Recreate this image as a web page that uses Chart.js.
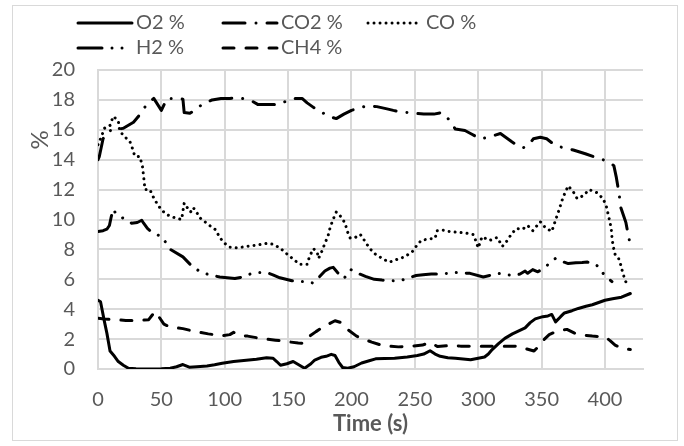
<!DOCTYPE html>
<html>
<head>
<meta charset="utf-8">
<script src="https://cdn.jsdelivr.net/npm/chart.js@4.4.1/dist/chart.umd.min.js"></script>
<style>
    html, body { margin: 0; padding: 0; background: #fff; }
    .frame { position: absolute; left: 12px; top: 5px; width: 666px; height: 436px; border: 1px solid #d9d9d9; box-sizing: border-box; }
    .frame canvas { display: block; }
</style>
</head>
<body>
<div class="frame"><canvas id="chart" width="664" height="434"></canvas></div>
<script>
const o2Time = [0, 2, 5, 7, 9.5, 13, 16, 20, 24, 30, 40, 50, 57, 62, 67, 72, 78, 86, 92, 98, 107, 117, 125, 133, 138, 141, 144, 149, 154, 158, 163, 168, 171, 176, 180, 184, 187, 190, 193, 197, 202, 208, 214, 219, 226, 234, 244, 252, 257, 262, 266, 270, 276, 282, 288, 294, 300, 305, 308, 311, 316, 321, 327, 332, 337, 341, 345, 351, 355, 358, 361, 365, 368, 374, 379, 385, 390, 395, 400, 406, 413, 420];
const o2Values = [4.6, 4.5, 3.2, 2.4, 1.2, 0.85, 0.5, 0.25, 0.05, 0.02, 0.0, 0.02, 0.05, 0.15, 0.3, 0.12, 0.15, 0.2, 0.28, 0.38, 0.5, 0.58, 0.65, 0.75, 0.72, 0.5, 0.25, 0.35, 0.5, 0.3, 0.05, 0.35, 0.6, 0.78, 0.85, 0.98, 0.9, 0.45, 0.1, 0.05, 0.15, 0.4, 0.55, 0.68, 0.7, 0.72, 0.8, 0.9, 1.0, 1.22, 1.0, 0.85, 0.75, 0.72, 0.67, 0.62, 0.72, 0.8, 1.0, 1.3, 1.7, 2.05, 2.35, 2.55, 2.75, 3.1, 3.35, 3.5, 3.55, 3.65, 3.15, 3.5, 3.75, 3.9, 4.05, 4.2, 4.3, 4.45, 4.6, 4.7, 4.8, 5.05];

const co2Time = [0, 1, 4, 8, 12, 20, 28, 31.5, 35, 39.5, 44, 50, 54.5, 60, 67, 68, 72.5, 78, 82, 90, 97, 104, 110, 117, 122, 126, 135, 143.5, 149, 155, 161, 165, 170, 176, 182, 188, 194, 200, 206, 212, 220, 228, 233, 239, 245, 251, 257, 265, 271, 275, 279, 282, 289.5, 295, 301.5, 308, 317.5, 326.5, 331, 335.5, 340, 343.5, 349, 354, 360, 365, 375, 384.5, 391, 396.5, 402, 407, 409, 411, 412.5, 416.5, 418.5, 420.5];
const co2Values = [14.0, 14.2, 15.4, 15.9, 16.0, 16.1, 16.5, 16.85, 17.3, 17.8, 18.1, 17.3, 18.1, 18.1, 18.05, 17.15, 17.1, 17.4, 17.7, 18.0, 18.1, 18.1, 18.15, 18.05, 17.9, 17.7, 17.7, 17.7, 17.95, 18.1, 18.1, 17.8, 17.5, 17.2, 16.9, 16.75, 17.05, 17.3, 17.45, 17.6, 17.55, 17.4, 17.3, 17.2, 17.15, 17.1, 17.05, 17.05, 17.15, 16.9, 16.4, 16.05, 15.95, 15.7, 15.4, 15.5, 15.75, 15.2, 14.95, 14.8, 15.0, 15.4, 15.5, 15.4, 15.0, 14.85, 14.65, 14.4, 14.2, 14.05, 13.9, 13.6, 12.8, 11.8, 10.8, 9.8, 8.9, 8.1];

const coTime = [0, 3, 5, 9.5, 12, 16, 17, 20, 25, 27, 29, 33, 35, 36.5, 37, 41, 43, 47, 50.5, 55, 61, 66, 67, 68, 70, 73, 75, 77, 80.5, 88, 93, 96, 100, 104, 110, 117, 126, 133, 138, 143.5, 149, 154, 159, 165, 167, 170, 173, 174, 176.5, 179, 181.5, 183, 185, 188, 191, 195, 196.5, 199, 203, 207, 211, 214, 218.5, 225, 230, 236.5, 242, 248, 251, 255, 261, 266, 267.5, 271.5, 277, 283, 289.5, 296, 298, 300, 303, 309, 315, 317, 319, 322.5, 326, 330, 335, 339, 343, 349, 353, 358, 360, 362, 364, 366, 368.5, 371, 375, 378, 383, 387.5, 393.5, 398.5, 401, 402.5, 404, 405, 405.5, 406.5, 408, 410.5, 412, 414, 416, 418.5];
const coValues = [15.0, 15.6, 16.1, 16.3, 16.9, 16.6, 16.0, 15.6, 15.25, 14.8, 14.25, 14.2, 13.6, 12.5, 12.0, 12.0, 11.6, 11.0, 10.6, 10.3, 10.1, 10.0, 10.55, 11.1, 10.85, 10.5, 10.8, 10.6, 10.1, 9.6, 9.3, 8.8, 8.4, 8.15, 8.1, 8.2, 8.3, 8.4, 8.35, 8.1, 7.7, 7.35, 7.0, 7.0, 7.55, 8.05, 7.8, 7.4, 7.85, 8.4, 8.9, 9.4, 9.9, 10.5, 10.25, 9.75, 9.25, 8.75, 8.8, 9.0, 8.5, 8.1, 7.7, 7.35, 7.15, 7.35, 7.5, 7.85, 8.2, 8.6, 8.7, 8.75, 9.25, 9.3, 9.2, 9.15, 9.1, 9.0, 8.6, 8.1, 8.85, 8.6, 8.8, 8.5, 8.2, 8.55, 9.0, 9.4, 9.35, 9.6, 9.25, 9.85, 9.45, 9.2, 9.7, 10.2, 10.7, 11.25, 11.8, 12.25, 11.85, 11.4, 11.6, 12.0, 11.8, 11.4, 10.9, 10.35, 9.8, 9.3, 8.8, 8.2, 7.66, 7.45, 7.1, 6.45, 5.9, 5.55];

const h2Time = [0, 4, 7, 9, 10.5, 12, 14, 17, 22, 26.5, 31, 34.5, 36, 39, 42.5, 46, 50.5, 57, 67, 75, 80, 86, 96, 108, 114, 120, 127, 133, 138, 143.5, 153, 160, 165, 169.5, 174, 179, 183, 185.5, 189, 194, 199.5, 205, 211, 218, 224, 233, 240, 245, 251, 256.5, 263, 270, 276, 282, 293.5, 304, 315.5, 328, 333, 337, 339, 343, 347, 351, 356, 361, 366, 371, 377, 382, 386, 390.5, 394, 396, 398.5, 402, 405.5];
const h2Values = [9.2, 9.25, 9.35, 9.6, 10.2, 10.7, 10.4, 10.2, 10.0, 9.75, 9.8, 9.95, 9.75, 9.4, 9.15, 9.0, 8.85, 8.0, 7.5, 6.8, 6.55, 6.35, 6.15, 6.05, 6.15, 6.35, 6.45, 6.45, 6.3, 6.1, 5.9, 5.85, 5.85, 5.75, 6.1, 6.55, 6.75, 6.8, 6.45, 6.05, 6.65, 6.4, 6.2, 6.0, 5.95, 5.9, 5.95, 6.1, 6.25, 6.3, 6.35, 6.35, 6.4, 6.45, 6.4, 6.15, 6.4, 6.25, 6.35, 6.55, 6.4, 6.65, 6.5, 6.7, 7.05, 7.4, 7.2, 7.05, 7.1, 7.12, 7.15, 7.1, 6.9, 6.75, 6.4, 6.1, 5.85];

const ch4Time = [0, 5, 12, 22, 33, 40, 45, 48, 52, 57, 67, 77, 87, 98, 104, 107, 112, 118, 126, 133, 140, 150, 158, 162, 167, 172, 178, 187, 192, 196, 204, 210, 216, 225, 237, 248, 256, 262, 268, 279, 286, 295, 305, 315, 325, 331, 338, 344, 348, 351, 356, 360, 366, 370, 376, 382, 390, 400, 404, 408, 413, 420];
const ch4Values = [3.4, 3.35, 3.3, 3.25, 3.25, 3.3, 3.85, 3.5, 3.0, 2.8, 2.7, 2.5, 2.35, 2.22, 2.3, 2.45, 2.25, 2.2, 2.08, 2.0, 1.93, 1.82, 1.74, 1.72, 2.2, 2.5, 2.83, 3.23, 3.1, 2.7, 2.2, 1.98, 1.8, 1.55, 1.48, 1.53, 1.6, 1.78, 1.5, 1.58, 1.53, 1.52, 1.52, 1.52, 1.52, 1.53, 1.35, 1.2, 1.55, 1.9, 2.3, 2.45, 2.6, 2.65, 2.4, 2.27, 2.2, 2.15, 1.9, 1.6, 1.4, 1.3];

const seriesLabels = ['O2 %', 'CO2 %', 'CO %', 'H2 %', 'CH4 %'];
const xTitle = 'Time (s)';
const yTitle = '%';

const textColor = '#595959';
const gridColor = '#d9d9d9';

Chart.defaults.font.family = 'Lato, "Open Sans", sans-serif';
Chart.defaults.color = textColor;

function toPoints(times, values) {
    return times.map((t, i) => ({ x: t, y: values[i] }));
}

function makeDataset(label, times, values, dash) {
    return {
        label: label,
        data: toPoints(times, values),
        borderColor: '#000',
        backgroundColor: '#000',
        borderWidth: 3,
        borderDash: dash,
        borderCapStyle: 'round',
        borderJoinStyle: 'round',
        pointRadius: 0,
        tension: 0,
        fill: false
    };
}

// legend in fixed columns like the original, plus the rotated "%" title
const sideTexts = {
    id: 'sideTexts',
    afterDraw(chart) {
        const ctx = chart.ctx;
        ctx.save();
        chart.data.datasets.forEach((ds, i) => {
            const x = 65 + (i % 3) * 145;
            const y = 17 + Math.floor(i / 3) * 25;
            ctx.beginPath();
            ctx.setLineDash(ds.borderDash);
            ctx.lineCap = 'round';
            ctx.lineWidth = 3;
            ctx.strokeStyle = '#000';
            ctx.moveTo(x, y);
            ctx.lineTo(x + 54, y);
            ctx.stroke();
            ctx.setLineDash([]);
            ctx.fillStyle = textColor;
            ctx.font = '20px Lato';
            ctx.textBaseline = 'middle';
            ctx.textAlign = 'left';
            ctx.fillText(ds.label, x + 58, y);
        });
        ctx.translate(27, 134);
        ctx.rotate(-Math.PI / 2);
        ctx.fillStyle = textColor;
        ctx.font = '24px Lato';
        ctx.textAlign = 'center';
        ctx.textBaseline = 'middle';
        ctx.fillText(yTitle, 0, 0);
        ctx.restore();
    }
};

const chart = new Chart(document.getElementById('chart'), {
    type: 'line',
    data: {
        datasets: [
            makeDataset(seriesLabels[0], o2Time, o2Values, []),
            makeDataset(seriesLabels[1], co2Time, co2Values, [22, 11, 0.01, 11]),
            makeDataset(seriesLabels[2], coTime, coValues, [0.01, 6]),
            makeDataset(seriesLabels[3], h2Time, h2Values, [24, 10, 0.01, 10, 0.01, 10]),
            makeDataset(seriesLabels[4], ch4Time, ch4Values, [11, 12])
        ]
    },
    options: {
        responsive: false,
        animation: false,
        layout: { padding: { top: 64, right: 34, left: 0, bottom: 0 } },
        plugins: {
            legend: { display: false },
            tooltip: { enabled: false }
        },
        scales: {
            x: {
                type: 'linear',
                min: 0,
                max: 430,
                ticks: { stepSize: 50, includeBounds: false, padding: 19, color: textColor, font: { size: 20 } },
                grid: { color: gridColor, lineWidth: 2, drawTicks: false },
                border: { color: gridColor, width: 2 },
                title: { display: true, text: xTitle, color: textColor, font: { size: 22, weight: 'bold' }, padding: { top: 4, bottom: 3 } },
                afterFit(scale) { scale.height = 71; }
            },
            y: {
                min: 0,
                max: 20,
                ticks: { stepSize: 2, padding: 23, color: textColor, font: { size: 20 } },
                grid: { color: gridColor, lineWidth: 2, drawTicks: false },
                border: { color: gridColor, width: 2 },
                afterFit(scale) { scale.width = 85; }
            }
        }
    },
    plugins: [sideTexts]
});
</script>
</body>
</html>
